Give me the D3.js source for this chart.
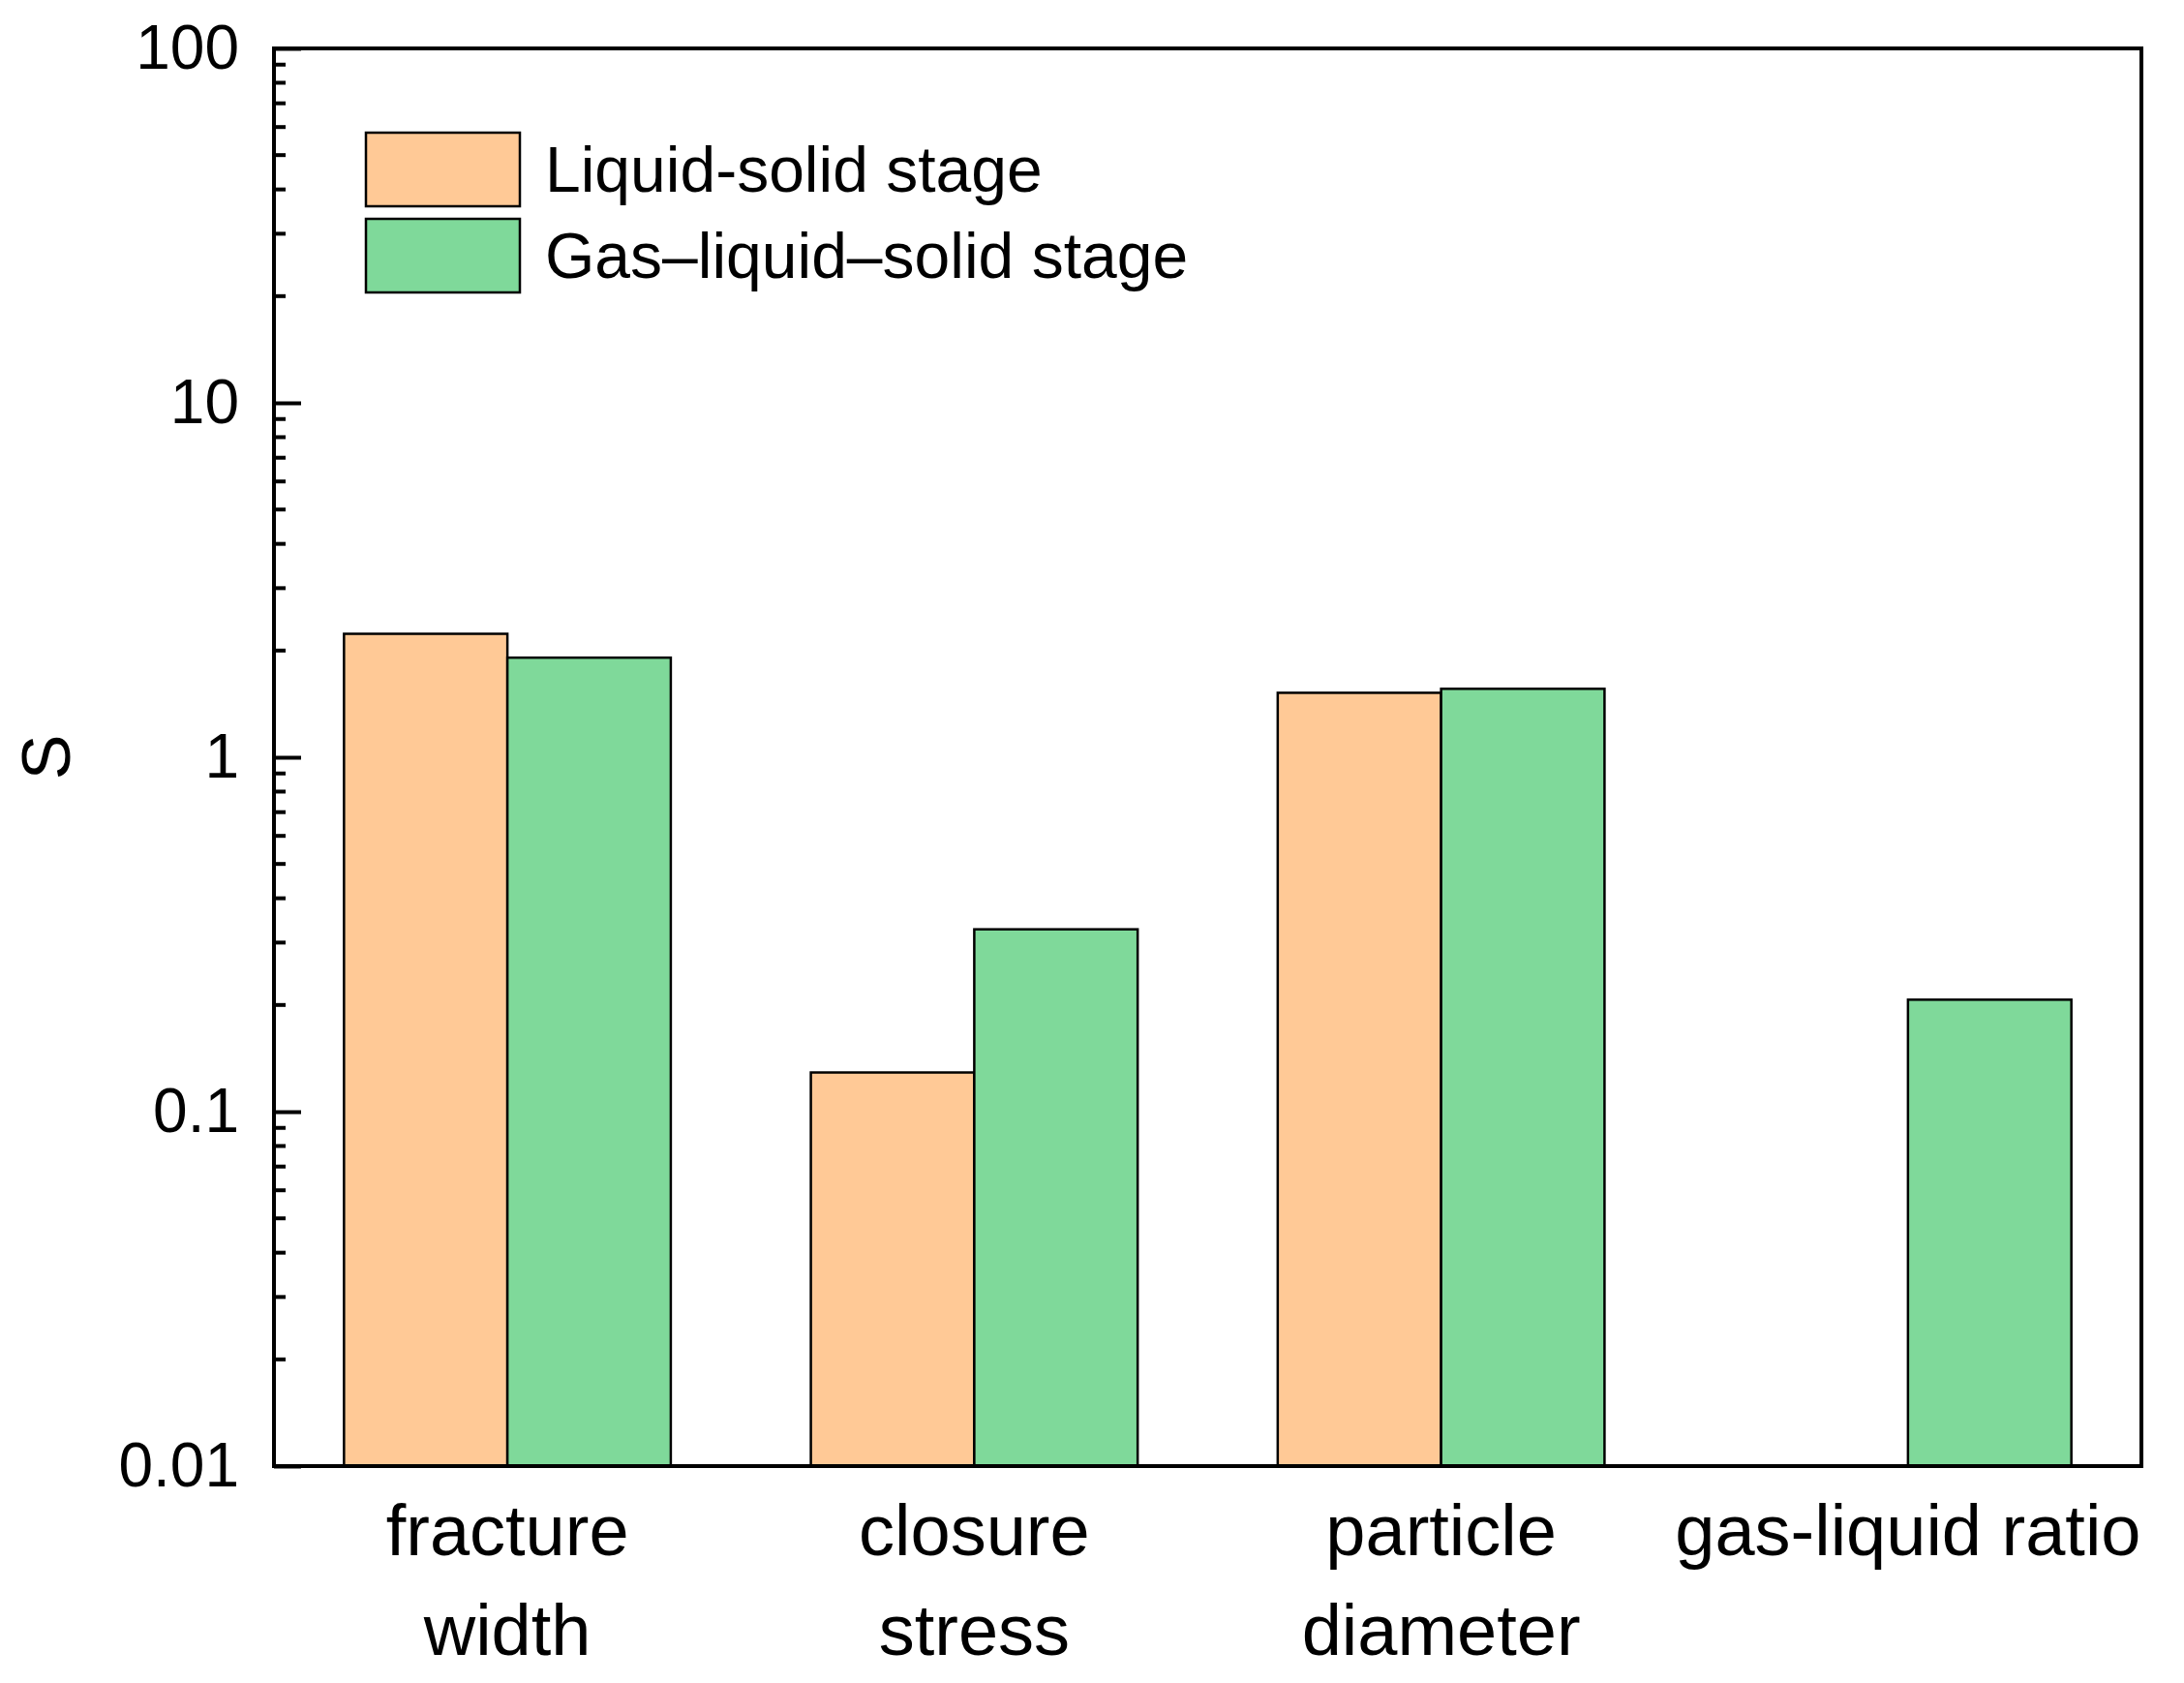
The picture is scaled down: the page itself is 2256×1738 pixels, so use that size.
<!DOCTYPE html><html><head><meta charset="utf-8">
<script src="https://cdn.jsdelivr.net/npm/d3@7"></script>
<style>body{margin:0;background:#fff}text{font-family:"Liberation Sans",Arial,sans-serif}</style></head><body>
<svg id="c" width="2256" height="1738"></svg>
<script>
const categories=[["fracture","width"],["closure","stress"],["particle","diameter"],["gas-liquid ratio"]];
const seriesNames=["Liquid-solid stage","Gas\u2013liquid\u2013solid stage"];
const liquidSolid=[2.23,0.129,1.52,null];
const gasLiquidSolid=[1.91,0.327,1.56,0.207];
const colors=["#FFC996","#7FD99A"];
const tickValues=[0.01,0.1,1,10,100];
const tickLabels=["0.01","0.1","1","10","100"];

const svg=d3.select("#c");
const L=283,R=2212,T=50,B=1514;
const x=d3.scaleBand().domain(d3.range(categories.length)).range([L,R]).paddingInner(0.3).paddingOuter(0.15);
const xs=d3.scaleBand().domain([0,1]).range([0,x.bandwidth()]);
const y=d3.scaleLog().domain([0.01,100]).range([B,T]);
const series=[liquidSolid,gasLiquidSolid];
series.forEach((s,si)=>{
  svg.append("g").selectAll("rect").data(s.map((v,i)=>({v,i})).filter(d=>d.v!=null)).join("rect")
   .attr("x",d=>x(d.i)+xs(si)).attr("width",xs.bandwidth())
   .attr("y",d=>y(d.v)).attr("height",d=>B-y(d.v))
   .attr("fill",colors[si]).attr("stroke","#000").attr("stroke-width",2.5);
});
// minor ticks
const minor=[];for(let e=-2;e<2;e++)for(let k=2;k<=9;k++)minor.push(k*Math.pow(10,e));
svg.append("g").selectAll("line").data(minor).join("line").attr("x1",L).attr("x2",L+12)
 .attr("y1",d=>y(d)).attr("y2",d=>y(d)).attr("stroke","#000").attr("stroke-width",4);
const ax=svg.append("g").attr("transform",`translate(${L},0)`).call(d3.axisLeft(y).tickValues(tickValues).tickFormat((d,i)=>tickLabels[i]).tickSizeInner(-28).tickSizeOuter(0).tickPadding(36));
ax.select(".domain").remove();
ax.selectAll("line").attr("stroke-width",4);
ax.selectAll("text").attr("font-size",64).attr("fill","#000");
svg.append("rect").attr("x",L).attr("y",T).attr("width",R-L).attr("height",B-T).attr("fill","none").attr("stroke","#000").attr("stroke-width",4);
// x labels
categories.forEach((lines,i)=>{
  const t=svg.append("text").attr("x",x(i)+x.bandwidth()/2).attr("text-anchor","middle").attr("font-size",74);
  lines.forEach((l,j)=>t.append("tspan").attr("x",x(i)+x.bandwidth()/2).attr("y",1606+j*103).text(l));
});
svg.append("text").attr("transform","translate(72,782) rotate(-90)").attr("text-anchor","middle").attr("font-size",70).text("S");
// legend
seriesNames.forEach((n,i)=>{
  svg.append("rect").attr("x",378).attr("y",137+i*89).attr("width",159).attr("height",76).attr("fill",colors[i]).attr("stroke","#000").attr("stroke-width",2.5);
  svg.append("text").attr("x",563).attr("y",175+i*89).attr("dy","0.35em").attr("font-size",66).text(n);
});
</script></body></html>
